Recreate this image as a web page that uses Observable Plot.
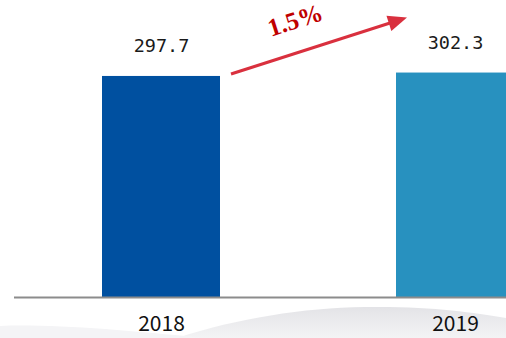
<!DOCTYPE html>
<html>
<head>
<meta charset="utf-8">
<script src="https://cdn.jsdelivr.net/npm/d3@7"></script>
<script src="https://cdn.jsdelivr.net/npm/@observablehq/plot@0.6"></script>
<style>
  html, body { margin: 0; padding: 0; background: #ffffff; }
  #chart svg { display: block; }
</style>
</head>
<body>
<div id="chart"></div>
<script>
// Data
const years = ["2018", "2019"];
const values = [297.7, 302.3];
const barColors = ["#0050A0", "#2891BF"];
const growthLabel = "1.5%";

const data = years.map((year, i) => ({year, value: values[i], color: barColors[i]}));

// Faint decorative ink-wash hills behind the axis labels
function backdrop(index, scales, values_, dimensions) {
  const {width, height} = dimensions;
  const g = d3.create("svg:g");
  const defs = g.append("defs");
  const grad = defs.append("linearGradient").attr("id", "hillGrad")
    .attr("x1", 0).attr("y1", 0).attr("x2", 0).attr("y2", 1);
  grad.append("stop").attr("offset", "0%").attr("stop-color", "#dedee2").attr("stop-opacity", 0.85);
  grad.append("stop").attr("offset", "100%").attr("stop-color", "#eeeef0").attr("stop-opacity", 0.7);
  const b = height;
  g.append("path")
    .attr("d", `M${width * 0.35},${b} C${width * 0.47},${b - 20} ${width * 0.6},${b - 30} ${width * 0.72},${b - 31}
      C${width * 0.85},${b - 32} ${width * 0.93},${b - 26} ${width},${b - 20} L${width},${b} Z`)
    .attr("fill", "url(#hillGrad)");
  g.append("path")
    .attr("d", `M0,${b - 12} C${width * 0.1},${b - 14} ${width * 0.25},${b - 8} ${width * 0.4},${b} L0,${b} Z`)
    .attr("fill", "#f4f4f6");
  return g.node();
}

// Decorative annotation: growth arrow from the 2018 bar toward the 2019 bar
function growthArrow(index, scales) {
  const x = scales.x, y = scales.y;
  const bw = typeof x.bandwidth === "function" ? x.bandwidth() : x.bandwidth;
  const x1 = x(years[0]) + bw + 11, y1 = y(values[0]) - 2;
  const x2 = x(years[1]) + 11, y2 = y(values[1]) - 55;
  const ang = Math.atan2(y2 - y1, x2 - x1);
  const headLen = 19, headW = 8;
  const bx = x2 - headLen * Math.cos(ang), by = y2 - headLen * Math.sin(ang);
  const nx = -Math.sin(ang), ny = Math.cos(ang);
  const g = d3.create("svg:g");
  g.append("line")
    .attr("x1", x1).attr("y1", y1)
    .attr("x2", bx + 2 * Math.cos(ang)).attr("y2", by + 2 * Math.sin(ang))
    .attr("stroke", "#D9303E").attr("stroke-width", 3);
  g.append("path")
    .attr("d", `M${x2},${y2}L${bx + nx * headW},${by + ny * headW}L${bx - nx * headW},${by - ny * headW}Z`)
    .attr("fill", "#D9303E");
  const tx = (x1 + x2) / 2 - 24, ty = (y1 + y2) / 2 - 26;
  g.append("text")
    .attr("transform", `translate(${tx},${ty}) rotate(${ang * 180 / Math.PI})`)
    .attr("text-anchor", "middle")
    .attr("dy", "0.35em")
    .attr("fill", "#C00000")
    .attr("font-family", "'Liberation Serif', 'Times New Roman', serif")
    .attr("font-weight", "bold")
    .attr("font-size", 25)
    .text(growthLabel);
  return g.node();
}

const chart = Plot.plot({
  width: 506,
  height: 338,
  marginTop: 0,
  marginLeft: 14,
  marginRight: 0,
  marginBottom: 41,
  style: {background: "#ffffff", overflow: "hidden"},
  x: {domain: years, range: [14, 602], paddingInner: 0.6, paddingOuter: 0.3, axis: null, label: null},
  y: {domain: [0, 400], axis: null},
  color: {type: "identity"},
  marks: [
    backdrop,
    Plot.barY(data, {x: "year", y: "value", fill: "color"}),
    Plot.ruleY([0], {stroke: "#8c8c8c", strokeWidth: 2}),
    Plot.text(data, {
      x: "year", y: "value", text: d => d.value.toFixed(1),
      dy: -30, fontSize: 18.5, fill: "#1a1a1a",
      fontFamily: "'DejaVu Sans Mono', monospace"
    }),
    Plot.axisX({
      tickSize: 0, tickPadding: 19, fontSize: 21, label: null,
      fontFamily: "'Noto Sans CJK SC', sans-serif", color: "#111111"
    }),
    growthArrow
  ]
});
document.getElementById("chart").appendChild(chart);
</script>
</body>
</html>
